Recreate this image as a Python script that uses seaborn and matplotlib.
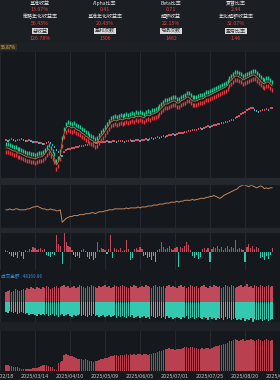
import numpy as np
import pandas as pd
import matplotlib
matplotlib.use("Agg")
import matplotlib.pyplot as plt
import matplotlib.transforms as mtransforms
from matplotlib.patches import Rectangle
import seaborn as sns

sns.set_theme(style="dark")
plt.rcParams["font.family"] = ["Noto Sans CJK SC", "DejaVu Sans"]
plt.rcParams["axes.unicode_minus"] = False
plt.rcParams["patch.force_edgecolor"] = False

# ---------------- data ----------------
stat_labels = [["基准收益", "Alpha比率", "Beta比率", "夏普比率"],
               ["策略年化收益率", "基准年化收益率", "超额收益", "年化超额收益率"],
               ["总收益", "盈利次数", "亏损次数", "盈亏比率"]]
stat_values = [["13.97%", "0.41", "0.71", "2.44"],
               ["56.43%", "20.43%", "22.15%", "32.07%"],
               ["126.78%", "1306", "1482", "1.46"]]

date_labels = ["2025/02/18", "2025/03/14", "2025/04/10", "2025/05/09", "2025/06/05",
               "2025/07/01", "2025/07/25", "2025/08/20", "2025/09/15"]
date_pos = [-3, 15, 33, 51, 69, 87, 105, 123, 141]   # trading-day index

top_value_label = "56.87%"
volume_label = "成交金额 : 48169.86"

strategy = [4, 4, 2, 0, -2, -2, -6, -6, -8, -10,
            -12, -14, -14, -16, -16, -18, -16, -14, -14, -12,
            -8, -2, 2, -4, -10, -16, -30, -24, -10, 16,
            34, 44, 48, 46, 44, 46, 42, 40, 38, 34,
            32, 28, 26, 22, 20, 18, 14, 16, 22, 28,
            32, 38, 44, 50, 56, 58, 60, 58, 60, 62,
            60, 62, 64, 62, 64, 66, 64, 68, 66, 68,
            66, 64, 68, 70, 68, 72, 72, 74, 76, 80,
            84, 88, 92, 92, 94, 96, 98, 98, 94, 94,
            98, 100, 102, 106, 106, 102, 98, 98, 98, 100,
            102, 102, 104, 108, 108, 110, 112, 114, 116, 118,
            120, 122, 124, 126, 130, 136, 140, 144, 148, 148,
            146, 144, 140, 142, 144, 146, 148, 150, 150, 146,
            142, 138, 134, 132, 136, 136, 132, 128]

benchmark = [20, 18, 20, 22, 20, 18, 20, 20, 22, 20,
             18, 18, 20, 18, 16, 16, 16, 14, 14, 12,
             12, 14, 16, 14, 10, 6, 0, -4, -10, -12,
             -4, 0, 2, 2, 4, 4, 6, 6, 8, 8,
             8, 10, 10, 12, 12, 14, 14, 14, 16, 16,
             16, 16, 18, 16, 16, 18, 18, 16, 18, 18,
             18, 16, 18, 18, 20, 18, 18, 20, 20, 18,
             20, 20, 22, 20, 22, 24, 22, 24, 26, 24,
             26, 28, 26, 28, 30, 30, 32, 30, 32, 34,
             34, 34, 36, 36, 38, 38, 40, 40, 40, 42,
             44, 42, 44, 46, 48, 46, 48, 50, 50, 52,
             52, 54, 54, 56, 56, 58, 60, 60, 64, 66,
             68, 72, 74, 76, 80, 82, 84, 84, 80, 78,
             76, 78, 80, 80, 82, 80, 84, 84]

excess_line = [20, 20, 21, 20, 20, 21, 21, 20, 20, 20,
               20, 21, 21, 22, 23, 23, 24, 23, 22, 21,
               21, 20, 20, 21, 20, 20, 19, 19, 20, 7,
               9, 11, 12, 13, 13, 14, 14, 14, 15, 15,
               15, 16, 16, 16, 17, 17, 16, 17, 18, 18,
               18, 19, 19, 20, 20, 20, 21, 21, 21, 21,
               21, 21, 22, 21, 22, 22, 22, 22, 23, 22,
               23, 23, 23, 24, 24, 24, 25, 25, 25, 26,
               26, 26, 27, 27, 27, 28, 28, 28, 29, 28,
               29, 29, 30, 30, 30, 30, 31, 30, 31, 31,
               32, 32, 32, 33, 33, 34, 34, 35, 34, 33,
               32, 33, 35, 36, 37, 38, 39, 40, 41, 42,
               44, 45, 46, 46, 45, 44, 46, 45, 44, 43,
               44, 45, 44, 42, 43, 42, 43, 43]

daily_excess = [2, 1, -2, -4, -5, -3, -6, 1, -4, -7,
                2, 1, 3, 2, 5, 4, 2, 3, 4, 2,
                3, -3, -4, -5, -2, -3, 17, 8, 6, -12,
                20, 10, 6, 5, 2, -3, -5, -4, -6, 2,
                3, 1, -5, -7, -4, -8, -6, 10, 2, 4,
                3, 2, -2, 3, 17, -6, 4, 3, 2, 4,
                1, 2, 12, 3, -8, -6, 3, 4, 2, 5,
                3, -4, -3, -6, -5, -8, -4, -10, 2, 3,
                10, 5, 3, 4, 6, 3, 2, 4, 5, -15,
                5, 4, 6, 10, 7, 2, -4, -6, -3, -7,
                -5, 3, 4, 2, 4, -10, 3, 5, 4, 6,
                3, 5, 2, 4, 6, 3, 5, 4, 12, 3,
                4, 3, 2, -10, 5, 8, 4, 6, 3, 5,
                4, -6, -5, -8, -4, -7, -3, 4]

vol_up = [10, 11, 12, 10, 11, 13, 12, 11, 12, 13,
          12, 14, 13, 15, 14, 13, 15, 14, 13, 15,
          14, 16, 15, 13, 14, 15, 16, 14, 15, 16,
          17, 15, 16, 14, 15, 16, 14, 15, 17, 16,
          15, 14, 16, 15, 17, 16, 15, 14, 16, 15,
          16, 17, 15, 16, 14, 15, 17, 16, 15, 16,
          17, 16, 15, 14, 16, 15, 17, 16, 14, 15,
          16, 15, 17, 16, 15, 14, 16, 17, 15, 16,
          15, 16, 14, 16, 17, 15, 16, 15, 14, 16,
          17, 15, 16, 14, 15, 17, 16, 15, 16, 14,
          15, 16, 17, 15, 14, 16, 15, 17, 16, 15,
          16, 14, 15, 17, 16, 15, 17, 16, 14, 15,
          16, 17, 15, 16, 18, 15, 16, 14, 17, 16,
          15, 17, 16, 15, 16, 17, 15, 16]

vol_down = [-10, -11, -9, -10, -11, -10, -12, -11, -10, -11,
            -12, -11, -13, -12, -12, -13, -14, -12, -13, -12,
            -13, -12, -14, -13, -12, -14, -13, -15, -13, -12,
            -14, -13, -12, -14, -15, -13, -14, -13, -12, -14,
            -13, -14, -15, -13, -14, -12, -14, -13, -15, -14,
            -13, -15, -14, -13, -15, -14, -13, -16, -14, -15,
            -14, -15, -16, -14, -15, -13, -16, -15, -14, -16,
            -15, -14, -16, -15, -17, -14, -15, -16, -15, -14,
            -16, -15, -17, -14, -16, -15, -17, -16, -15, -16,
            -17, -15, -16, -14, -17, -16, -15, -17, -16, -15,
            -16, -17, -15, -16, -18, -15, -17, -16, -18, -16,
            -17, -16, -18, -15, -17, -16, -18, -17, -16, -18,
            -17, -18, -16, -19, -17, -18, -16, -20, -17, -18,
            -18, -17, -19, -18, -17, -19, -18, -17]

cum_bars = [6, 6, 5, 5, 4, 4, 4, 3, 2, 2,
            2, 2, 2, 2, 3, 3, 3, 4, 5, 6,
            6, 6, 5, 4, 4, 2, 1, 8, 9, 10,
            16, 17, 16, 15, 15, 14, 13, 12, 12, 12,
            11, 12, 11, 10, 10, 9, 10, 10, 11, 12,
            12, 13, 13, 14, 15, 15, 16, 16, 15, 16,
            16, 16, 17, 16, 17, 16, 17, 16, 17, 17,
            16, 17, 17, 16, 17, 17, 18, 18, 19, 20,
            20, 21, 22, 22, 23, 22, 22, 21, 22, 22,
            22, 23, 24, 24, 23, 24, 24, 23, 23, 22,
            22, 23, 22, 23, 23, 22, 23, 24, 25, 25,
            26, 26, 27, 27, 28, 30, 30, 31, 32, 31,
            30, 31, 32, 30, 31, 31, 32, 31, 30, 31,
            32, 31, 30, 31, 32, 31, 30, 31]

# ---------------- style ----------------
BG = "#15181c"
HEADER_BG = "#1b1e22"
SEP = "#24272c"
GRID = "#262a30"
GREEN = "#1fc98f"
RED = "#e8373f"
MID = "#c07a45"
B_UP = "#d4505e"
B_DN = "#3ab3c6"
BAR_RED = "#c04a5a"
BAR_CY = "#33c9b0"
CUM_RED = "#b8404f"

W, H = 280, 380
fig = plt.figure(figsize=(W / 100, H / 100), dpi=100, facecolor=BG)


def band(y0, y1, color):
    fig.patches.append(Rectangle((0, 1 - y1 / H), 1, (y1 - y0) / H,
                                 transform=fig.transFigure, color=color, zorder=0))


band(0, 43, HEADER_BG)
band(43, 51, "#1d2024")
band(178, 184, SEP)
band(228, 232, SEP)
band(322, 330, "#1d2024")


def make_ax(y0, y1):
    ax = fig.add_axes([0, 1 - y1 / H, 1, (y1 - y0) / H])
    ax.set_facecolor(BG)
    for s in ax.spines.values():
        s.set_visible(False)
    return ax


def finish(ax, ylim):
    ax.set_xlim(-0.2, 137.06)
    ax.set_ylim(*ylim)
    ax.set_xticks(date_pos)
    ax.set_yticks([])
    ax.tick_params(length=0, labelbottom=False, labelleft=False)
    ax.grid(axis="x", color=GRID, lw=0.7)
    ax.grid(axis="y", visible=False)
    ax.set_xlabel("")
    ax.set_ylabel("")
    ax.set_axisbelow(True)


def bars(ax, x, v, colors, width=0.78):
    ax.bar(x, v, width=width, color=colors, edgecolor="none", linewidth=0,
           antialiased=True)


idx = np.arange(len(strategy))

# header stats
col_x = [40, 105, 171, 236]
row_y = [(3.5, 9.5), (16.8, 23.6), (31.2, 38.0)]
for r in range(3):
    for c in range(4):
        ly, vy = row_y[r]
        if r == 2:
            fig.text(col_x[c] / W, 1 - ly / H, stat_labels[r][c], ha="center", va="center",
                     fontsize=3.6, color="#2a2a2a",
                     bbox=dict(boxstyle="square,pad=0.12", fc="#d9d9d9", ec="none"))
        else:
            fig.text(col_x[c] / W, 1 - ly / H, stat_labels[r][c], ha="center", va="center",
                     fontsize=3.6, color="#e2e2e2")
        fig.text(col_x[c] / W, 1 - vy / H, stat_values[r][c], ha="center", va="center",
                 fontsize=3.8, color="#e4434b")

fig.text(1 / W, 1 - 47.3 / H, top_value_label, ha="left", va="center", fontsize=3.2,
         color="#e5b572", bbox=dict(boxstyle="square,pad=0.15", fc="#3a3022", ec="none"))

# main panel
ax = make_ax(51, 178)
df = pd.DataFrame({"i": idx, "s": strategy, "b": benchmark})
df["bdir"] = np.where(df["b"].diff().fillna(0) >= 0, "up", "down")
sns.scatterplot(data=df, x="i", y="b", hue="bdir", palette={"up": B_UP, "down": B_DN},
                marker="s", s=1.1, linewidth=0, legend=False, ax=ax)
up_tr = mtransforms.offset_copy(ax.transData, fig=fig, x=0, y=3.6, units="dots")
dn_tr = mtransforms.offset_copy(ax.transData, fig=fig, x=0, y=-3.6, units="dots")
ax.plot(df["i"], df["s"], linestyle="", marker="|", markersize=2.8,
        markeredgewidth=1.0, color=RED, transform=dn_tr)
ax.plot(df["i"], df["s"], linestyle="", marker="|", markersize=2.8,
        markeredgewidth=1.0, color=GREEN, transform=up_tr)
sns.lineplot(data=df, x="i", y="s", color=MID, lw=0.6, ax=ax)
finish(ax, (-56, 198))

# panel 2: excess line
ax2 = make_ax(184, 228)
sns.lineplot(x=idx, y=excess_line, color="#c4865a", lw=0.7, ax=ax2)
finish(ax2, (1, 47))

# panel 3: daily excess bars
ax3 = make_ax(232, 270)
d3 = np.array(daily_excess)
bars(ax3, idx, d3, [BAR_RED if v >= 0 else BAR_CY for v in d3], width=0.6)
finish(ax3, (-18, 20))

fig.text(1 / W, 1 - 276.5 / H, volume_label, ha="left", va="center", fontsize=3.3,
         color="#3d8fe0")

# panel 4: up / down bars
ax4 = make_ax(280, 322)
bars(ax4, idx, vol_up, BAR_RED)
bars(ax4, idx, vol_down, BAR_CY)
finish(ax4, (-20, 22))

# panel 5: cumulative bars
ax5 = make_ax(330, 371)
bars(ax5, idx, cum_bars, CUM_RED)
finish(ax5, (0, 41))

tr = mtransforms.blended_transform_factory(ax5.transData, fig.transFigure)
for p, lab in zip(date_pos, date_labels):
    ax5.text(p, 1 - 375.5 / H, lab, transform=tr, ha="center", va="center",
             fontsize=3.5, color="#c9c9c9", family="DejaVu Sans", clip_on=False)

fig.savefig("out.png", dpi=100, facecolor=BG)
